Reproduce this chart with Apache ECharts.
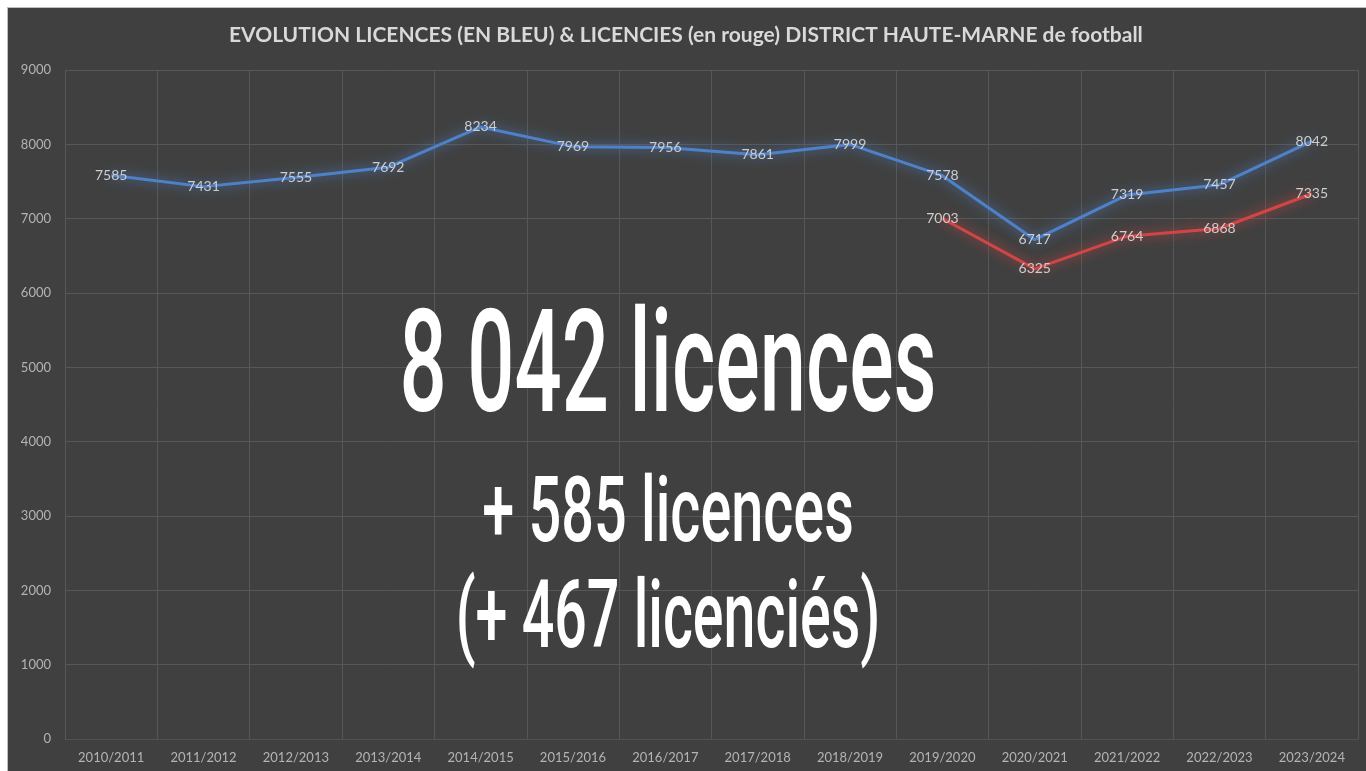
<!DOCTYPE html>
<html>
<head>
<meta charset="utf-8">
<script src="https://cdn.jsdelivr.net/npm/echarts@6/dist/echarts.min.js"></script>
<style>
  html, body { margin: 0; padding: 0; background: #ffffff; }
  #chart {
    position: absolute;
    left: 7px;
    top: 7px;
    width: 1359px;
    height: 764px;
    background: #404040;
    border-top: 1px solid #bdbdbd;
    border-left: 1px solid #bdbdbd;
    box-sizing: border-box;
  }
</style>
</head>
<body>
<div id="chart"></div>
<script>
// saisons
const seasons = ['2010/2011', '2011/2012', '2012/2013', '2013/2014', '2014/2015', '2015/2016', '2016/2017',
  '2017/2018', '2018/2019', '2019/2020', '2020/2021', '2021/2022', '2022/2023', '2023/2024']

// licences (bleu)
const licences = [7585, 7431, 7555, 7692, 8234, 7969, 7956, 7861, 7999, 7578, 6717, 7319, 7457, 8042]

// licenciés (rouge), seulement depuis 2019/2020
const licencies = [null, null, null, null, null, null, null, null, null, 7003, 6325, 6764, 6868, 7335]

const yTicks = { min: 0, max: 9000, interval: 1000 }

const bigLines = ['8 042 licences', '+ 585 licences', '(+ 467 licenciés)']

const chart = echarts.init(document.getElementById('chart'))

const makeLine = (name, data, color) => ({
  name: name,
  type: 'line',
  data: data,
  symbol: 'circle',
  symbolSize: 0,
  showSymbol: true,
  connectNulls: false,
  z: 3,
  lineStyle: {
    color: color,
    width: 3,
    shadowColor: color,
    shadowBlur: 12
  },
  itemStyle: { color: color },
  label: {
    show: true,
    position: 'inside',
    color: '#cdcdcd',
    fontSize: 14,
    fontFamily: 'Lato, "Open Sans", sans-serif'
  }
})

// gros texte condensé (mise à l'échelle horizontale)
const bigText = (text, y, size, scale) => ({
  type: 'text',
  x: 660,
  y: y,
  scaleX: scale,
  z: 100,
  style: {
    text: text,
    fill: '#ffffff',
    font: '500 ' + size + 'px Roboto, "DejaVu Sans", sans-serif',
    textAlign: 'center',
    textVerticalAlign: 'middle',
    shadowColor: 'rgba(255,255,255,0.45)',
    shadowBlur: 6
  }
})

const option = {
  backgroundColor: '#404040',
  animation: false,
  title: {
    text: 'EVOLUTION LICENCES (EN BLEU) & LICENCIES (en rouge) DISTRICT HAUTE-MARNE de football',
    left: 216,
    top: 12,
    textStyle: {
      color: '#d9d9d9',
      fontSize: 21,
      fontWeight: 'bold',
      fontFamily: 'Lato, "Open Sans", sans-serif'
    }
  },
  grid: {
    left: 57,
    right: 8,
    top: 62,
    bottom: 32
  },
  xAxis: {
    type: 'category',
    data: seasons,
    boundaryGap: true,
    axisTick: { show: false },
    axisLine: { show: true, lineStyle: { color: '#525252', width: 1 } },
    axisLabel: {
      color: '#b4b4b4',
      fontSize: 13,
      margin: 12,
      fontFamily: 'Lato, "Open Sans", sans-serif'
    },
    splitLine: { show: true, lineStyle: { color: '#575757', width: 1 } }
  },
  yAxis: {
    type: 'value',
    min: yTicks.min,
    max: yTicks.max,
    interval: yTicks.interval,
    axisLine: { show: false },
    axisTick: { show: false },
    axisLabel: {
      color: '#b4b4b4',
      fontSize: 13,
      margin: 14,
      fontFamily: 'Lato, "Open Sans", sans-serif',
      formatter: (v) => String(v)
    },
    splitLine: { show: true, lineStyle: { color: '#575757', width: 1 } }
  },
  graphic: [
    bigText(bigLines[0], 367, 142, 0.585),
    bigText(bigLines[1], 510, 90, 0.64),
    bigText(bigLines[2], 615, 94, 0.61)
  ],
  series: [
    makeLine('Licences', licences, '#4f81c9'),
    makeLine('Licenciés', licencies, '#d04545')
  ]
}

chart.setOption(option)
</script>
</body>
</html>
